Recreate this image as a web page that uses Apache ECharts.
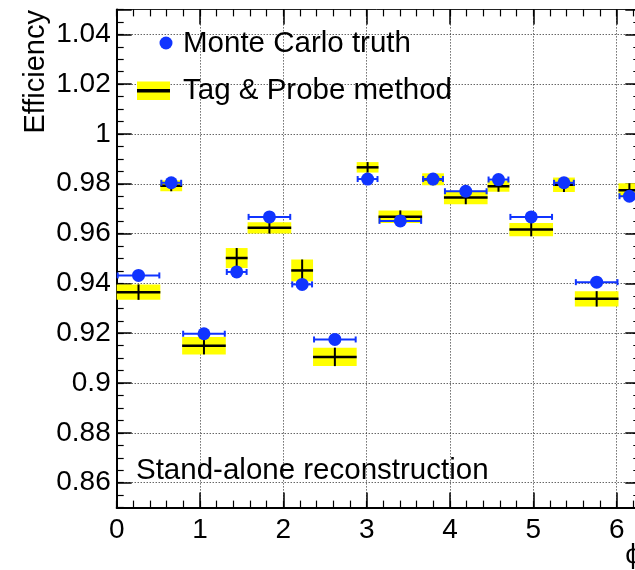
<!DOCTYPE html>
<html><head><meta charset="utf-8">
<script src="https://cdn.jsdelivr.net/npm/echarts@6/dist/echarts.min.js"></script>
<style>html,body{margin:0;padding:0;background:#fff}#c{width:635px;height:570px}</style>
</head><body><div id="c"></div>
<script>
// ---- data ----
const binLow  = [0, 0.5236, 0.7854, 1.3090, 1.5708, 2.0944, 2.3562, 2.8798, 3.1416, 3.6652, 3.9270, 4.4506, 4.7124, 5.2360, 5.4978, 6.0214];
const binHigh = [0.5236, 0.7854, 1.3090, 1.5708, 2.0944, 2.3562, 2.8798, 3.1416, 3.6652, 3.9270, 4.4506, 4.7124, 5.2360, 5.4978, 6.0214, 6.2832];
const mcEff = [0.9432, 0.9804, 0.9198, 0.9446, 0.9667, 0.9396, 0.9175, 0.9819, 0.9651, 0.9819, 0.9770, 0.9817, 0.9667, 0.9804, 0.9405, 0.9750];
const tpEff = [0.9365, 0.9792, 0.9150, 0.9502, 0.9623, 0.9452, 0.9105, 0.9866, 0.9668, 0.9818, 0.9745, 0.9790, 0.9616, 0.9796, 0.9338, 0.9774];
const tpErr = [0.0031, 0.0022, 0.0035, 0.0040, 0.0023, 0.0044, 0.0037, 0.0021, 0.0025, 0.0024, 0.0027, 0.0022, 0.0027, 0.0029, 0.0031, 0.0028];
const xTickLabels = ['0', '1', '2', '3', '4', '5', '6'];
const yTickLabels = ['0.86', '0.88', '0.9', '0.92', '0.94', '0.96', '0.98', '1', '1.02', '1.04'];
const xRange = [0, 6.2832];
const yRange = [0.85, 1.05];

// ---- build ----
const tpData = binLow.map((lo, i) => [lo, binHigh[i], tpEff[i], tpErr[i]]);
const mcBarData = binLow.map((lo, i) => [lo, binHigh[i], mcEff[i]]);
const mcPoints = binLow.map((lo, i) => [(lo + binHigh[i]) / 2, mcEff[i]]);

const FONT = 'Liberation Sans, Arial, Helvetica, sans-serif';
const BLUE = '#1034ff';

function fmtX(v) {
  const s = String(Math.round(v * 1000) / 1000);
  return xTickLabels.indexOf(s) >= 0 ? s : '';
}
function fmtY(v) {
  const s = String(parseFloat(v.toFixed(3)));
  return yTickLabels.indexOf(s) >= 0 ? s : '';
}

const gridLine = {show: true, lineStyle: {color: '#222', width: 1, type: [1, 2]}};

const chart = echarts.init(document.getElementById('c'), null, {renderer: 'canvas'});
chart.setOption({
  animation: false,
  backgroundColor: '#fff',
  grid: {left: 116.7, top: 9.4, width: 523.6, height: 498.2, containLabel: false, outerBoundsMode: 'none'},
  xAxis: [
    {type: 'value', position: 'bottom', min: xRange[0], max: xRange[1], interval: 1,
     axisLine: {show: true, onZero: false, lineStyle: {color: '#000', width: 2}},
     axisTick: {show: true, inside: true, length: 15, lineStyle: {color: '#000', width: 1.5}},
     axisLabel: {show: true, formatter: fmtX, fontSize: 28, fontFamily: FONT, color: '#000', margin: 9, showMaxLabel: false},
     splitLine: gridLine},
    {type: 'value', position: 'bottom', min: xRange[0], max: xRange[1], interval: 0.2,
     axisLine: {show: false, onZero: false},
     axisTick: {show: true, inside: true, length: 7, lineStyle: {color: '#000', width: 1.2}},
     axisLabel: {show: false}, splitLine: {show: false}},
    {type: 'value', position: 'top', min: xRange[0], max: xRange[1], interval: 1,
     axisLine: {show: true, onZero: false, lineStyle: {color: '#222', width: 1}},
     axisTick: {show: true, inside: true, length: 15, lineStyle: {color: '#000', width: 1.5}},
     axisLabel: {show: false}, splitLine: {show: false}},
    {type: 'value', position: 'top', min: xRange[0], max: xRange[1], interval: 0.2,
     axisLine: {show: false, onZero: false},
     axisTick: {show: true, inside: true, length: 7, lineStyle: {color: '#000', width: 1.2}},
     axisLabel: {show: false}, splitLine: {show: false}}
  ],
  yAxis: [
    {type: 'value', position: 'left', min: yRange[0], max: yRange[1], splitNumber: 10, minInterval: 0.02, maxInterval: 0.02,
     axisLine: {show: true, onZero: false, lineStyle: {color: '#000', width: 2}},
     axisTick: {show: true, inside: true, length: 15, lineStyle: {color: '#000', width: 1.5}},
     axisLabel: {show: true, formatter: fmtY, fontSize: 28, fontFamily: FONT, color: '#000', margin: 6},
     splitLine: gridLine},
    {type: 'value', position: 'left', min: yRange[0], max: yRange[1], interval: 0.005,
     axisLine: {show: false, onZero: false},
     axisTick: {show: true, inside: true, length: 7, lineStyle: {color: '#000', width: 1.2}},
     axisLabel: {show: false}, splitLine: {show: false}},
    {type: 'value', position: 'right', min: yRange[0], max: yRange[1], splitNumber: 10, minInterval: 0.02, maxInterval: 0.02,
     axisLine: {show: true, onZero: false, lineStyle: {color: '#000', width: 2}},
     axisTick: {show: true, inside: true, length: 15, lineStyle: {color: '#000', width: 1.5}},
     axisLabel: {show: false}, splitLine: {show: false}},
    {type: 'value', position: 'right', min: yRange[0], max: yRange[1], interval: 0.005,
     axisLine: {show: false, onZero: false},
     axisTick: {show: true, inside: true, length: 7, lineStyle: {color: '#000', width: 1.2}},
     axisLabel: {show: false}, splitLine: {show: false}}
  ],
  series: [
    {name: 'Tag & Probe method', type: 'custom', xAxisIndex: 0, yAxisIndex: 0, data: tpData, z: 2,
     encode: {x: [0, 1], y: 2},
     renderItem: function (params, api) {
       const lo = api.value(0), hi = api.value(1), v = api.value(2), e = api.value(3);
       const a = api.coord([lo, v + e]), b = api.coord([hi, v - e]);
       const c = api.coord([(lo + hi) / 2, v]);
       return {type: 'group', children: [
         {type: 'rect', shape: {x: a[0], y: a[1], width: b[0] - a[0], height: b[1] - a[1]}, style: {fill: '#ffff00'}},
         {type: 'line', shape: {x1: a[0], y1: c[1], x2: b[0], y2: c[1]}, style: {stroke: '#000', lineWidth: 2.5}},
         {type: 'line', shape: {x1: c[0], y1: a[1], x2: c[0], y2: b[1]}, style: {stroke: '#000', lineWidth: 2}}
       ]};
     }},
    {name: 'Monte Carlo truth bars', type: 'custom', xAxisIndex: 0, yAxisIndex: 0, data: mcBarData, z: 3,
     encode: {x: [0, 1], y: 2},
     renderItem: function (params, api) {
       const lo = api.value(0), hi = api.value(1), v = api.value(2);
       const a = api.coord([lo, v]), b = api.coord([hi, v]);
       return {type: 'group', children: [
         {type: 'line', shape: {x1: a[0] + 1, y1: a[1], x2: b[0] - 1, y2: b[1]}, style: {stroke: BLUE, lineWidth: 2}},
         {type: 'line', shape: {x1: a[0] + 1, y1: a[1] - 3, x2: a[0] + 1, y2: a[1] + 3}, style: {stroke: BLUE, lineWidth: 2}},
         {type: 'line', shape: {x1: b[0] - 1, y1: b[1] - 3, x2: b[0] - 1, y2: b[1] + 3}, style: {stroke: BLUE, lineWidth: 2}}
       ]};
     }},
    {name: 'Monte Carlo truth', type: 'scatter', xAxisIndex: 0, yAxisIndex: 0, data: mcPoints, z: 4,
     symbol: 'circle', symbolSize: 13, itemStyle: {color: BLUE, opacity: 1}}
  ],
  graphic: [
    {type: 'circle', shape: {cx: 166, cy: 43, r: 6.5}, style: {fill: BLUE}, z: 10},
    {type: 'text', x: 183, y: 44, style: {text: 'Monte Carlo truth', font: '29.5px ' + FONT, fill: '#000', textVerticalAlign: 'middle', verticalAlign: 'middle'}, z: 10},
    {type: 'rect', shape: {x: 137, y: 81.5, width: 33, height: 18.5}, style: {fill: '#ffff00'}, z: 10},
    {type: 'line', shape: {x1: 137, y1: 90.8, x2: 170, y2: 90.8}, style: {stroke: '#000', lineWidth: 3.5}, z: 10},
    {type: 'text', x: 183, y: 91, style: {text: 'Tag & Probe method', font: '29.5px ' + FONT, fill: '#000', textVerticalAlign: 'middle', verticalAlign: 'middle'}, z: 10},
    {type: 'text', x: 136, y: 471, style: {text: 'Stand-alone reconstruction', font: '29.5px ' + FONT, fill: '#000', textVerticalAlign: 'middle', verticalAlign: 'middle'}, z: 10},
    {type: 'text', x: 36, y: 10, rotation: Math.PI / 2, style: {text: 'Efficiency', font: '29px ' + FONT, fill: '#000', textAlign: 'right', align: 'right', textVerticalAlign: 'middle', verticalAlign: 'middle'}, z: 10},
    {type: 'text', x: 641, y: 541, style: {text: 'ϕ', font: '28px ' + FONT, fill: '#000', textAlign: 'right', align: 'right', textVerticalAlign: 'top', verticalAlign: 'top'}, z: 10}
  ]
});
</script>
</body></html>
